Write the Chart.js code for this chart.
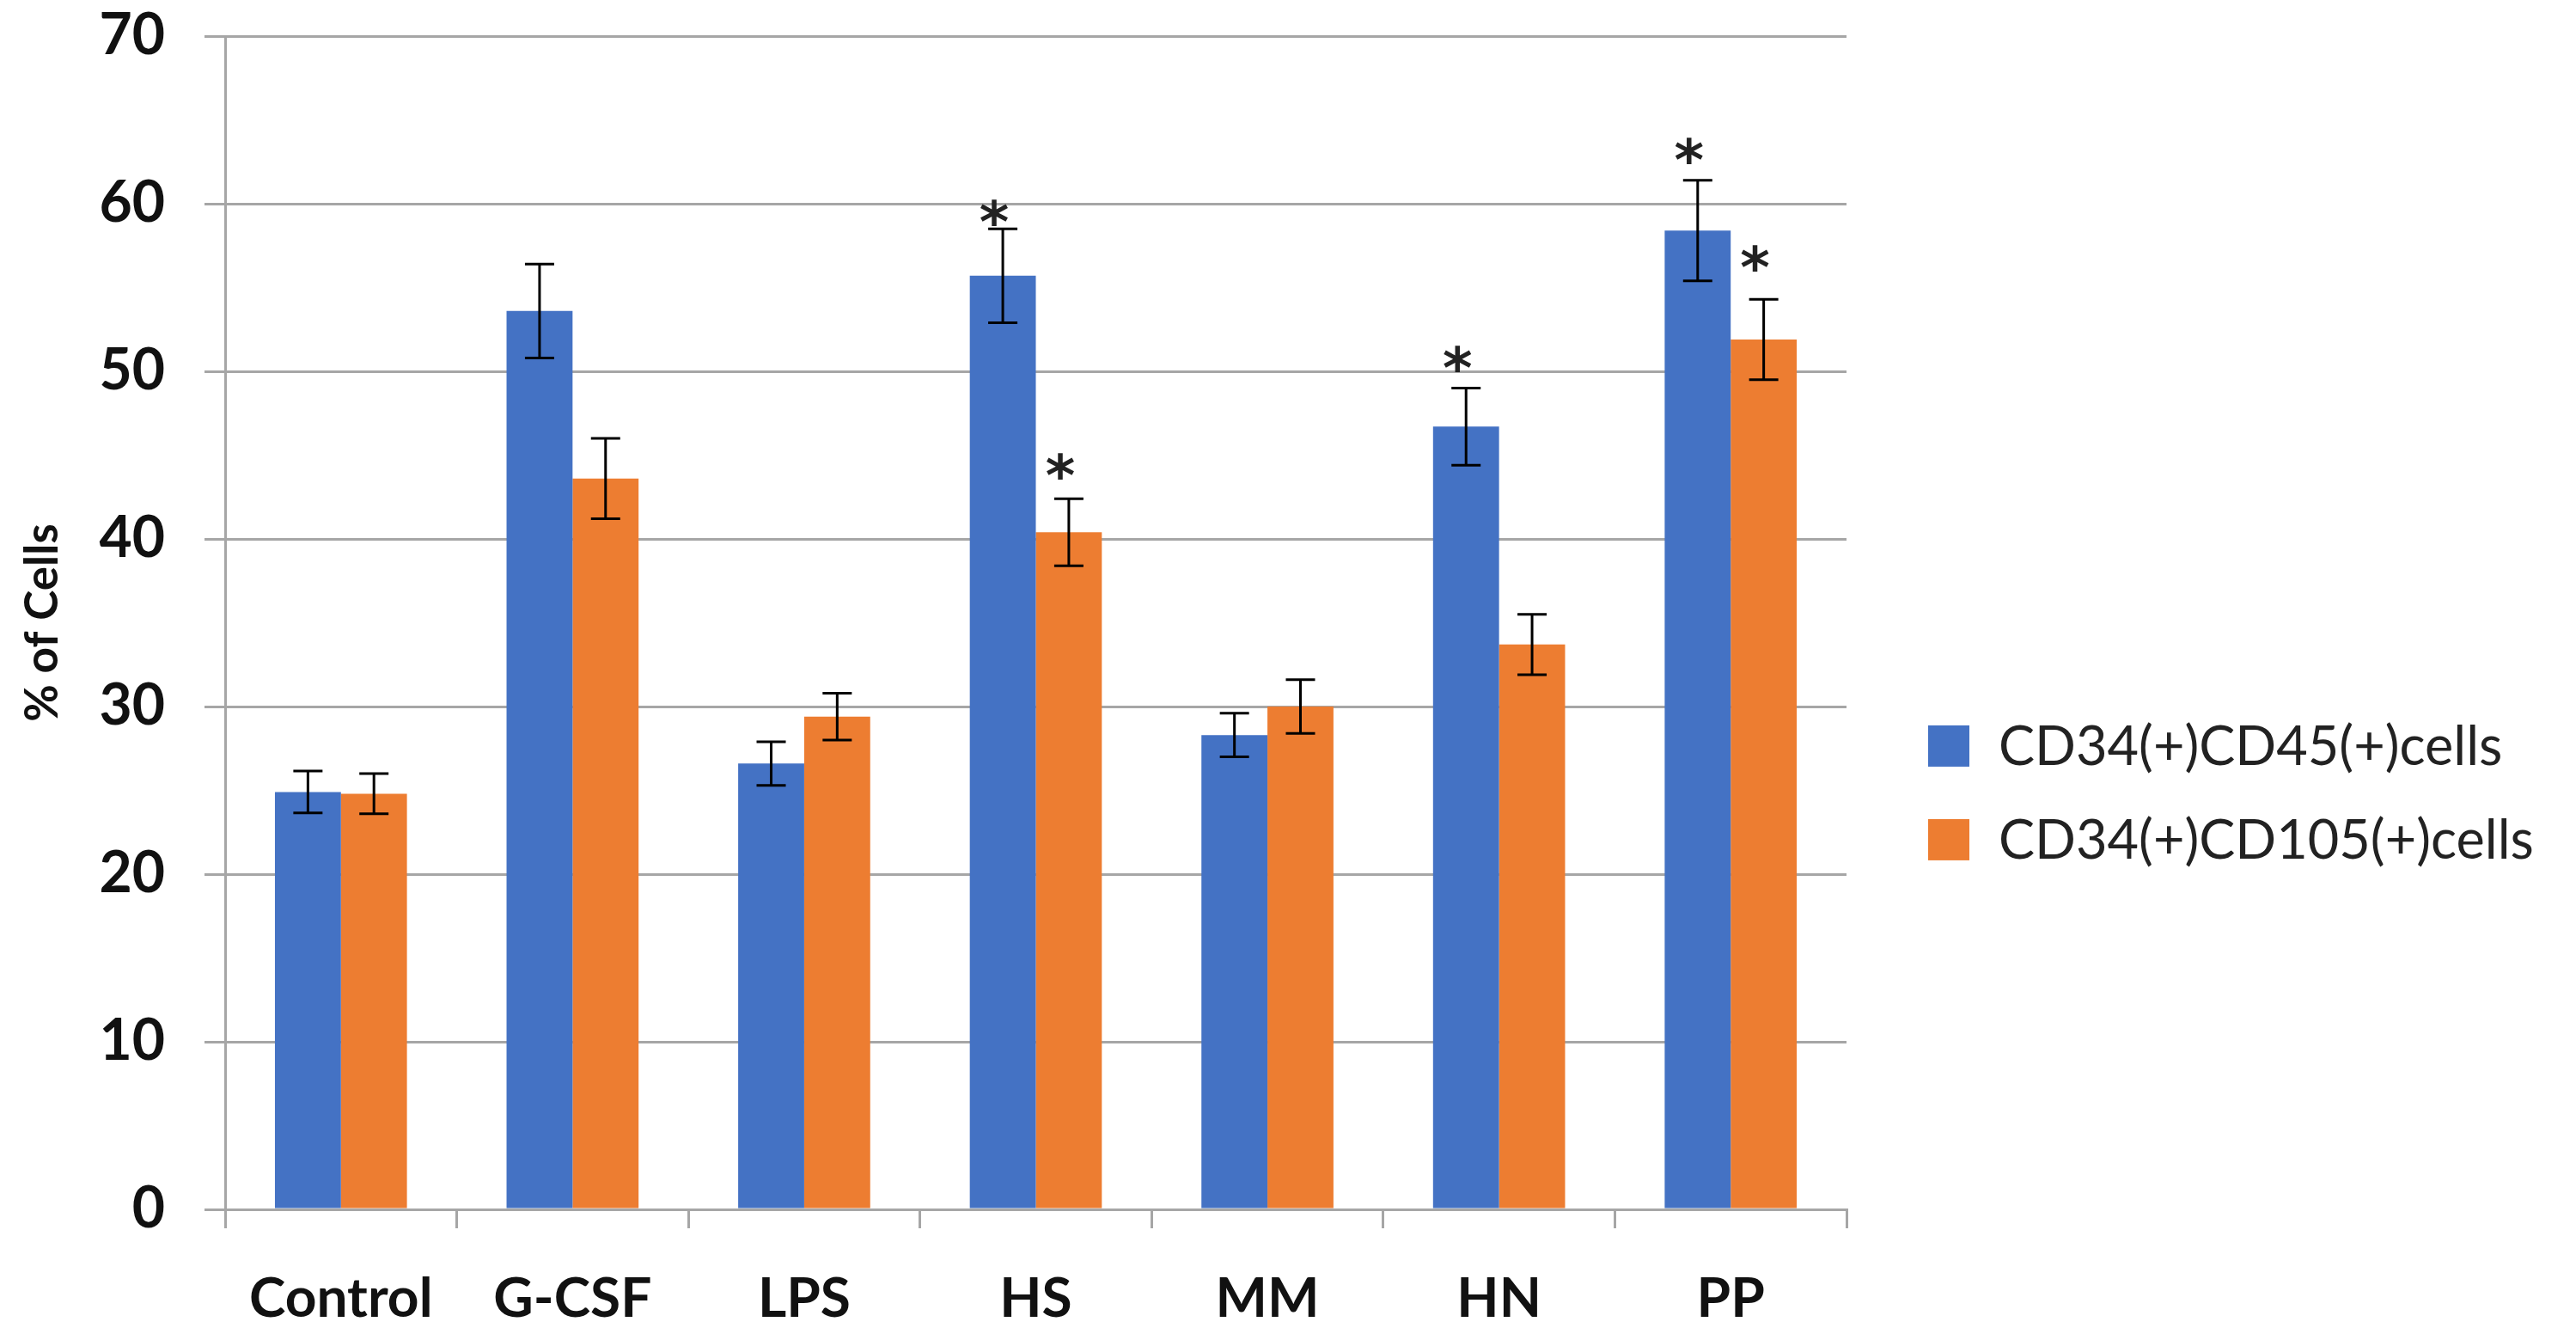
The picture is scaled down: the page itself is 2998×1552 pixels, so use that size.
<!DOCTYPE html>
<html>
<head>
<meta charset="utf-8">
<script src="https://cdn.jsdelivr.net/npm/chart.js@4"></script>
<style>
  html, body { margin: 0; padding: 0; background: #fff; }
  #wrap { width: 2998px; height: 1552px; }
</style>
</head>
<body>
<div id="wrap"><canvas id="graphique"></canvas></div>
<script>
// Données
const categories = ["Control", "G-CSF", "LPS", "HS", "MM", "HN", "PP"];
const seriesNames = ["CD34(+)CD45(+)cells", "CD34(+)CD105(+)cells"];
const cd45 = [24.9, 53.6, 26.6, 55.7, 28.3, 46.7, 58.4];
const cd45Err = [1.25, 2.8, 1.3, 2.8, 1.3, 2.3, 3.0];
const cd105 = [24.8, 43.6, 29.4, 40.4, 30.0, 33.7, 51.9];
const cd105Err = [1.2, 2.4, 1.4, 2.0, 1.6, 1.8, 2.4];
// position (en % de cellules) des astérisques
const cd45Stars = [null, null, null, 59.7, null, 51.0, 63.4];
const cd105Stars = [null, null, null, 44.6, null, null, 57.0];
const yTicks = [0, 10, 20, 30, 40, 50, 60, 70];

const couleurs = ["#4472C4", "#ED7D31"];
const gris = "#a6a6a6";

// Barres d'erreur + astérisques
const pluginErreurs = {
  id: "erreurs",
  afterDatasetsDraw(chart) {
    const ctx = chart.ctx;
    const y = chart.scales.y;
    const erreurs = [cd45Err, cd105Err];
    const etoiles = [cd45Stars, cd105Stars];
    ctx.save();
    for (let d = 0; d < 2; d++) {
      const meta = chart.getDatasetMeta(d);
      const valeurs = chart.data.datasets[d].data;
      for (let i = 0; i < meta.data.length; i++) {
        const x = meta.data[i].x;
        const haut = y.getPixelForValue(valeurs[i] + erreurs[d][i]);
        const bas = y.getPixelForValue(valeurs[i] - erreurs[d][i]);
        ctx.strokeStyle = "#000";
        ctx.lineWidth = 3;
        ctx.beginPath();
        ctx.moveTo(x, haut); ctx.lineTo(x, bas);
        ctx.moveTo(x - 17, haut); ctx.lineTo(x + 17, haut);
        ctx.moveTo(x - 17, bas); ctx.lineTo(x + 17, bas);
        ctx.stroke();
        if (etoiles[d][i] !== null) {
          ctx.fillStyle = "#222";
          ctx.font = "bold 66px 'DejaVu Sans'";
          ctx.textAlign = "center";
          ctx.textBaseline = "alphabetic";
          ctx.fillText("*", x - 10, y.getPixelForValue(etoiles[d][i]) + 0.58 * 66);
        }
      }
    }
    ctx.restore();
  }
};

// Légende dessinée à droite
const pluginLegende = {
  id: "legende",
  afterDraw(chart) {
    const ctx = chart.ctx;
    const area = chart.chartArea;
    const x0 = area.right + 95;
    const yCentre = area.top + (area.bottom - area.top) * 0.645;
    ctx.save();
    ctx.font = "63px Lato";
    ctx.textBaseline = "middle";
    ctx.textAlign = "left";
    for (let i = 0; i < seriesNames.length; i++) {
      const yy = yCentre + (i - 0.5) * 109;
      ctx.fillStyle = couleurs[i];
      ctx.fillRect(x0, yy - 24, 48, 48);
      ctx.fillStyle = "#222";
      ctx.fillText(seriesNames[i], x0 + 82, yy + 2);
    }
    ctx.restore();
  }
};

const data = {
  labels: categories,
  datasets: [
    { label: seriesNames[0], data: cd45, backgroundColor: couleurs[0] },
    { label: seriesNames[1], data: cd105, backgroundColor: couleurs[1] }
  ]
};

const config = {
  type: "bar",
  data: data,
  options: {
    responsive: true,
    maintainAspectRatio: false,
    animation: false,
    devicePixelRatio: 1,
    layout: { padding: { top: 42, right: 849, left: 0, bottom: 0 } },
    datasets: { bar: { categoryPercentage: 0.57, barPercentage: 1 } },
    plugins: {
      legend: { display: false },
      tooltip: { enabled: false }
    },
    scales: {
      x: {
        grid: { display: true, drawOnChartArea: false, offset: true, color: gris, lineWidth: 3, tickLength: 22 },
        border: { color: gris, width: 3 },
        ticks: { color: "#111", font: { family: "Lato", weight: "bold", size: 64 }, padding: 44 },
        afterFit(scale) { scale.height = 145; }
      },
      y: {
        min: 0,
        max: 70,
        afterBuildTicks(scale) { scale.ticks = yTicks.map(v => ({ value: v })); },
        grid: { color: gris, lineWidth: 3, tickLength: 24 },
        border: { color: gris, width: 3 },
        ticks: { color: "#111", font: { family: "Lato", weight: "bold", size: 66 }, padding: 46 },
        title: {
          display: true,
          text: "% of Cells",
          color: "#111",
          font: { family: "Lato", weight: "bold", size: 53 },
          padding: { top: 18, bottom: 0 }
        },
        afterFit(scale) {
          scale.width = 262;
          scale.paddingTop = 0;
          scale.paddingBottom = 0;
        }
      }
    }
  },
  plugins: [pluginErreurs, pluginLegende]
};

const graphique = new Chart(document.querySelector("#graphique"), config);
</script>
</body>
</html>
